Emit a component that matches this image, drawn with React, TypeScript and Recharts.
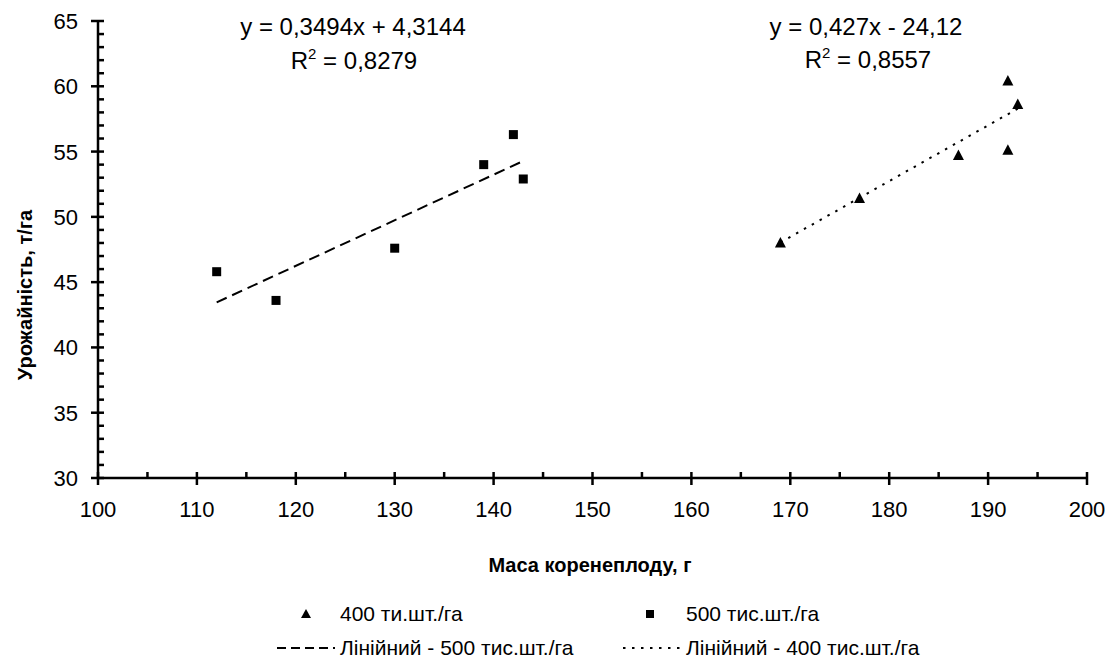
import { ScatterChart, Scatter, XAxis, YAxis } from "recharts";

// points: x = маса коренеплоду (г), y = урожайність (т/га)
const mass500 = [112, 118, 130, 139, 142, 143];
const yield500 = [45.8, 43.6, 47.6, 54.0, 56.3, 52.9];
const mass400 = [169, 177, 187, 192, 192, 193];
const yield400 = [48.0, 51.4, 54.7, 55.1, 60.4, 58.6];

// trend line end points
const trendMass500 = [112, 143];
const trendYield500 = [43.45, 54.28];
const trendMass400 = [169, 193];
const trendYield400 = [48.04, 58.29];

const xTicks = [100, 105, 110, 115, 120, 125, 130, 135, 140, 145, 150, 155, 160, 165, 170, 175, 180, 185, 190, 195, 200];
const yTicks = [30, 31, 32, 33, 34, 35, 36, 37, 38, 39, 40, 41, 42, 43, 44, 45, 46, 47, 48, 49, 50, 51, 52, 53, 54, 55, 56, 57, 58, 59, 60, 61, 62, 63, 64, 65];

const zip = (xs: number[], ys: number[]) => xs.map((x, i) => ({ x, y: ys[i] }));

const points500 = zip(mass500, yield500);
const points400 = zip(mass400, yield400);
const line500 = zip(trendMass500, trendYield500);
const line400 = zip(trendMass400, trendYield400);

const FONT = '"Liberation Sans", Arial, sans-serif';
const DASHED = "11 6";
const DOTTED = "2.5 6.5";

const XTick = ({ x, y, payload }: any) => {
  const v = payload.value;
  const major = v % 10 === 0;
  return (
    <g>
      <line x1={x} x2={x} y1={y - 6} y2={major ? y + 7 : y} stroke="#000" strokeWidth={2.5} />
      {major && (
        <text x={x} y={y + 39} textAnchor="middle" fontSize={22} fill="#000" fontFamily={FONT}>
          {v}
        </text>
      )}
    </g>
  );
};

const YTick = ({ x, y, payload }: any) => {
  const v = payload.value;
  const major = v % 5 === 0;
  return (
    <g>
      <line x1={major ? x - 7 : x} x2={x + 6} y1={y} y2={y} stroke="#000" strokeWidth={2.5} />
      {major && (
        <text x={x - 20} y={y + 8} textAnchor="end" fontSize={22} fill="#000" fontFamily={FONT}>
          {v}
        </text>
      )}
    </g>
  );
};

const Square = ({ cx, cy }: any) => <rect x={cx - 4.5} y={cy - 4.5} width={9} height={9} fill="#000" />;
const Triangle = ({ cx, cy }: any) => (
  <path d={`M${cx},${cy - 6} L${cx + 5.5},${cy + 4.5} L${cx - 5.5},${cy + 4.5} Z`} fill="#000" />
);
const NoDot = () => null;

export default function App() {
  return (
    <div style={{ position: "absolute", left: 0, top: 0, width: 1110, height: 660, background: "#fff" }}>
      <ScatterChart width={1110} height={660} margin={{ top: 21, right: 23, bottom: 142, left: 38 }}>
        <XAxis
          type="number"
          dataKey="x"
          domain={[100, 200]}
          ticks={xTicks}
          interval={0}
          tickSize={0}
          tickMargin={0}
          tickLine={false}
          tick={<XTick />}
          axisLine={{ stroke: "#000", strokeWidth: 2.5 }}
          height={40}
          allowDataOverflow
        />
        <YAxis
          type="number"
          dataKey="y"
          domain={[30, 65]}
          ticks={yTicks}
          interval={0}
          tickSize={0}
          tickMargin={0}
          tickLine={false}
          tick={<YTick />}
          axisLine={{ stroke: "#000", strokeWidth: 2.5 }}
          width={60}
          allowDataOverflow
        />
        <Scatter
          data={line500}
          line={{ stroke: "#000", strokeWidth: 2, strokeDasharray: DASHED }}
          shape={<NoDot />}
          isAnimationActive={false}
        />
        <Scatter
          data={line400}
          line={{ stroke: "#000", strokeWidth: 2, strokeDasharray: DOTTED }}
          shape={<NoDot />}
          isAnimationActive={false}
        />
        <Scatter data={points500} shape={<Square />} isAnimationActive={false} />
        <Scatter data={points400} shape={<Triangle />} isAnimationActive={false} />
      </ScatterChart>

      <svg style={{ position: "absolute", left: 0, top: 0 }} width={1110} height={660} fontFamily={FONT}>
        {/* axis titles */}
        <text transform="translate(32,295) rotate(-90)" textAnchor="middle" fontSize={20} fontWeight="bold">
          Урожайність, т/га
        </text>
        <text x={590} y={572} textAnchor="middle" fontSize={20} fontWeight="bold">
          Маса коренеплоду, г
        </text>

        {/* trend equations */}
        <text x={353} y={35} textAnchor="middle" fontSize={24}>
          y = 0,3494x + 4,3144
        </text>
        <text x={354} y={69} textAnchor="middle" fontSize={24}>
          R<tspan fontSize={15} dy={-10}>2</tspan>
          <tspan dy={10}> = 0,8279</tspan>
        </text>
        <text x={866} y={35} textAnchor="middle" fontSize={24}>
          y = 0,427x - 24,12
        </text>
        <text x={868} y={68} textAnchor="middle" fontSize={24}>
          R<tspan fontSize={15} dy={-10}>2</tspan>
          <tspan dy={10}> = 0,8557</tspan>
        </text>

        {/* legend */}
        <path d="M306,609 L311,618 L301,618 Z" fill="#000" />
        <rect x={646} y={610} width={8} height={8} fill="#000" />
        <line x1={277} x2={335} y1={648} y2={648} stroke="#000" strokeWidth={2} strokeDasharray="9 5" />
        <line x1={623} x2={681} y1={648} y2={648} stroke="#000" strokeWidth={2} strokeDasharray={DOTTED} />
        <text x={340} y={621} fontSize={21}>400 ти.шт./га</text>
        <text x={686} y={621} fontSize={21}>500 тис.шт./га</text>
        <text x={340} y={655} fontSize={21}>Лінійний - 500 тис.шт./га</text>
        <text x={686} y={655} fontSize={21}>Лінійний - 400 тис.шт./га</text>
      </svg>
    </div>
  );
}
